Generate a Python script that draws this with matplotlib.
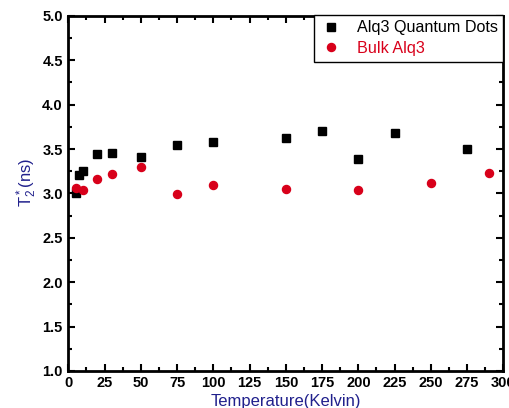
import matplotlib
matplotlib.use("Agg")
import matplotlib.pyplot as plt
from matplotlib.ticker import MultipleLocator

plt.rcParams['font.family'] = ['Liberation Sans', 'DejaVu Sans']
plt.rcParams['mathtext.default'] = 'regular'

# Alq3 quantum dots (black squares)
qd_temp = [5, 7.5, 10, 20, 30, 50, 75, 100, 150, 175, 200, 225, 275]
qd_t2 = [3.01, 3.21, 3.25, 3.44, 3.46, 3.41, 3.55, 3.58, 3.62, 3.70, 3.39, 3.68, 3.50]

# Bulk Alq3 (red circles)
bulk_temp = [5, 10, 20, 30, 50, 75, 100, 150, 200, 250, 290]
bulk_t2 = [3.06, 3.04, 3.16, 3.22, 3.30, 2.99, 3.09, 3.05, 3.04, 3.12, 3.23]

NAVY = '#20208c'
RED = '#d8001a'

fig = plt.figure(figsize=(5.1, 4.08), dpi=100)
ax = fig.add_axes([0.134, 0.091, 0.853, 0.870])

ax.plot(qd_temp, qd_t2, 's', color='black', markersize=5.2, linestyle='none',
        label='Alq3 Quantum Dots')
ax.plot(bulk_temp, bulk_t2, 'o', color=RED, markersize=5.8, linestyle='none',
        label='Bulk Alq3')

ax.set_xlim(0, 300)
ax.set_ylim(1.0, 5.0)
ax.xaxis.set_major_locator(MultipleLocator(25))
ax.xaxis.set_minor_locator(MultipleLocator(12.5))
ax.yaxis.set_major_locator(MultipleLocator(0.5))
ax.yaxis.set_minor_locator(MultipleLocator(0.25))

ax.tick_params(which='both', direction='in', top=True, right=True, width=1.5)
ax.tick_params(which='major', length=5, labelsize=10.5, pad=4)
ax.tick_params(which='minor', length=3)
for lab in ax.get_xticklabels() + ax.get_yticklabels():
    lab.set_fontweight('bold')

for sp in ax.spines.values():
    sp.set_linewidth(2)

ax.set_xlabel('Temperature(Kelvin)', color=NAVY, fontsize=12, labelpad=2.5)
ax.set_ylabel(r'T$_2^*$(ns)', color=NAVY, fontsize=12)
ax.yaxis.set_label_coords(-0.068, 0.53)

leg = ax.legend(loc='upper right', fontsize=11.6, frameon=True, fancybox=False,
                edgecolor='black', borderaxespad=0, handletextpad=0.9,
                handlelength=1.4, borderpad=0.35, labelspacing=0.35,
                framealpha=1, bbox_to_anchor=(1.0, 1.003))
leg.get_frame().set_linewidth(1)
for txt, c in zip(leg.get_texts(), ['black', RED]):
    txt.set_color(c)

fig.savefig('out.png', dpi=100)
